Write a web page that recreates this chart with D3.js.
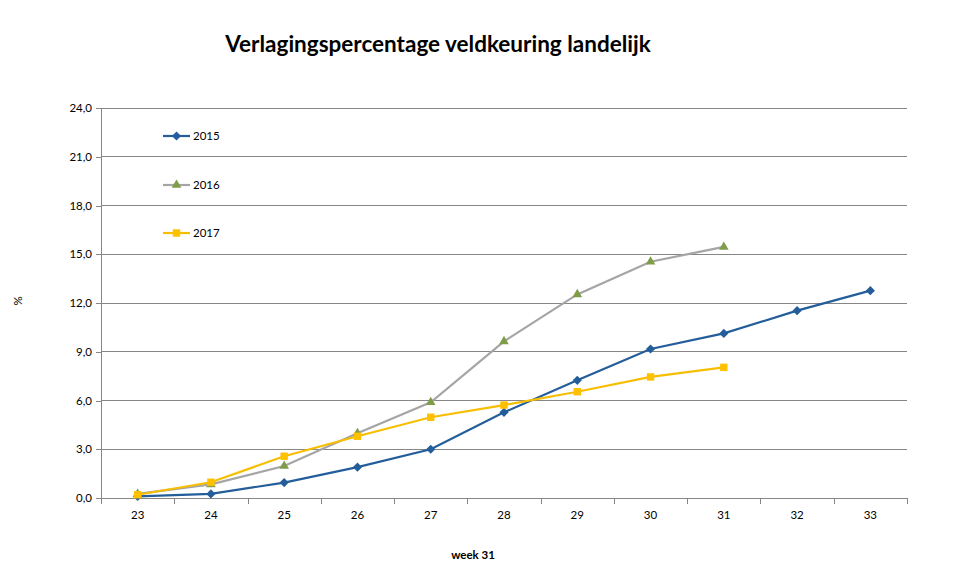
<!DOCTYPE html>
<html><head><meta charset="utf-8">
<script src="https://cdn.jsdelivr.net/npm/d3@7"></script>
<style>body{margin:0;background:#fff}svg{display:block}</style>
</head><body>
<svg id="c" width="954" height="588"></svg>
<script>
const weeks = ["23","24","25","26","27","28","29","30","31","32","33"];
const s2015 = [0.1,0.25,0.95,1.9,3.0,5.27,7.24,9.17,10.13,11.53,12.76];
const s2016 = [0.25,0.84,1.97,3.98,5.89,9.64,12.53,14.54,15.45];
const s2017 = [0.2,0.97,2.57,3.8,4.97,5.72,6.54,7.45,8.04];
const yTicks = [0,3,6,9,12,15,18,21,24];
const seriesNames = ["2015","2016","2017"];

const svg = d3.select("#c");
const font = "Lato, 'Open Sans', sans-serif";
const L=101, R=907, T=108, B=498;
const x = d3.scaleBand().domain(weeks).range([L,R]);
const y = d3.scaleLinear().domain([0,24]).range([B,T]);

svg.append("g").selectAll("line").data(yTicks.filter(d=>d>0)).join("line")
  .attr("x1",L).attr("x2",R).attr("y1",d=>y(d)).attr("y2",d=>y(d))
  .attr("stroke","#868686").attr("stroke-width",1).attr("shape-rendering","crispEdges");

const ya = svg.append("g").attr("transform",`translate(${L},0)`)
  .call(d3.axisLeft(y).tickValues(yTicks).tickSize(5).tickPadding(4).tickFormat(d=>d3.format(".1f")(d).replace(".",",")));
ya.select(".domain").attr("stroke","#868686").attr("d",`M-0,${T}V${B}`);
ya.selectAll(".tick line").attr("stroke","#868686");
ya.selectAll("text").attr("font-family",font).attr("font-size",11.5).attr("fill","#000");
ya.selectAll("path,line").attr("shape-rendering","crispEdges");

const xa = svg.append("g").attr("transform",`translate(0,${B})`)
  .call(d3.axisBottom(x).tickSize(0).tickPadding(13));
xa.select(".domain").attr("stroke","#868686").attr("d",`M${L},0H${R}`).attr("shape-rendering","crispEdges");
xa.selectAll("text").attr("font-family",font).attr("font-size",11.5).attr("fill","#000");
svg.append("g").selectAll("line").data(d3.range(weeks.length+1)).join("line")
  .attr("x1",i=>Math.round(L+i*x.step())).attr("x2",i=>Math.round(L+i*x.step()))
  .attr("y1",B).attr("y2",B+6).attr("stroke","#868686").attr("shape-rendering","crispEdges");

const cx = i => x(weeks[i]) + x.bandwidth()/2;
const line = d3.line().x((d,i)=>cx(i)).y(d=>y(d));

const series = [
  {name:"2015", data:s2015, line:"#235E9B", mark:"#235E9B", shape:d3.symbolSquare, size:42, rot:45},
  {name:"2016", data:s2016, line:"#A5A5A5", mark:"#7F9C48", shape:d3.symbolTriangle, size:40, rot:0},
  {name:"2017", data:s2017, line:"#F7BE00", mark:"#FFC000", shape:d3.symbolSquare, size:55, rot:0},
];

series.forEach(s=>{
  svg.append("path").attr("d",line(s.data)).attr("fill","none").attr("stroke",s.line).attr("stroke-width",2.2);
  svg.append("g").selectAll("path").data(s.data).join("path")
    .attr("transform",(d,i)=>`translate(${cx(i)},${y(d)}) rotate(${s.rot})`)
    .attr("d",d3.symbol().type(s.shape).size(s.size)).attr("fill",s.mark);
});

const legY = [136,185,233];
series.forEach((s,i)=>{
  const g = svg.append("g").attr("transform",`translate(163,${legY[i]})`);
  g.append("line").attr("x1",0).attr("x2",27).attr("stroke",s.line).attr("stroke-width",2.2);
  g.append("path").attr("transform",`translate(13.5,0) rotate(${s.rot})`).attr("d",d3.symbol().type(s.shape).size(s.size)).attr("fill",s.mark);
  g.append("text").attr("x",30).attr("y",4).text(s.name).attr("font-family",font).attr("font-size",11.5);
});

svg.append("text").attr("x",438).attr("y",52).attr("text-anchor","middle")
  .attr("font-family",font).attr("font-weight","bold").attr("font-size",22.5)
  .text("Verlagingspercentage veldkeuring landelijk");
svg.append("text").attr("x",473).attr("y",559).attr("text-anchor","middle")
  .attr("font-family",font).attr("font-weight","bold").attr("font-size",11.5).text("week 31");
svg.append("text").attr("transform","translate(22,301) rotate(-90)").attr("text-anchor","middle")
  .attr("font-family",font).attr("font-size",11.5).text("%");
</script>
</body></html>
